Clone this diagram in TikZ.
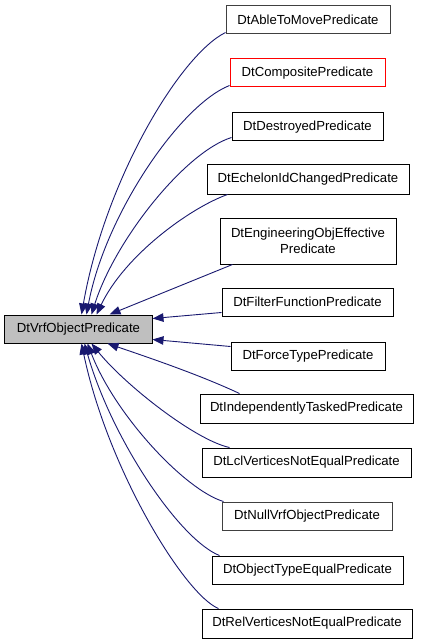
\documentclass[tikz,border=0pt]{standalone}
\usepackage{fontspec}
\setmainfont{Liberation Sans}
\usetikzlibrary{arrows.meta,calc}
\definecolor{edgeblue}{HTML}{191970}
\definecolor{mainfill}{HTML}{BFBFBF}
\definecolor{darkborder}{HTML}{404040}
\tikzset{
  cls/.style={draw=black, line width=1bp, fill=white, inner sep=0pt, minimum height=28bp,
    font=\fontsize{13.2}{16.5}\selectfont, align=center},
  edge/.style={draw=edgeblue, line width=0.9bp, -{Triangle[length=11bp,width=8.5bp]}, fill=none},
}
\begin{document}
\begin{tikzpicture}[x=1bp,y=-1bp]
\useasboundingbox (0,0) rectangle (421,643);
\fill[white] (0,0) rectangle (421,643);

\node[cls, fill=mainfill, minimum width=147bp] (main) at (78.5,329) {DtVrfObjectPredicate};

\node[cls, draw=darkborder, minimum width=164bp] (able) at (308,20) {DtAbleToMovePredicate};
\node[cls, draw=red, minimum width=155bp] (comp) at (307.5,73) {DtCompositePredicate};
\node[cls, minimum width=151bp] (destr) at (307.5,127) {DtDestroyedPredicate};
\node[cls, minimum width=202bp, minimum height=29bp] (ech) at (308,179.5) {DtEchelonIdChangedPredicate};
\node[cls, minimum width=176bp, minimum height=46bp] (eng) at (308,241) {DtEngineeringObjEffective\\Predicate};
\node[cls, minimum width=171bp] (filt) at (307.5,302) {DtFilterFunctionPredicate};
\node[cls, minimum width=154bp] (force) at (308,356) {DtForceTypePredicate};
\node[cls, minimum width=213bp, minimum height=29bp] (indep) at (306.5,408.5) {DtIndependentlyTaskedPredicate};
\node[cls, minimum width=209bp, minimum height=29bp] (lcl) at (306.5,462.5) {DtLclVerticesNotEqualPredicate};
\node[cls, draw=darkborder, minimum width=170bp] (null) at (307,516) {DtNullVrfObjectPredicate};
\node[cls, minimum width=191bp] (objt) at (307.5,570) {DtObjectTypeEqualPredicate};
\node[cls, minimum width=210bp, minimum height=29bp] (rel) at (307,623.5) {DtRelVerticesNotEqualPredicate};

% upper edges
\draw[edge] ($(able.south west)+(0,-2)$) .. controls (180,55) and (105,180) .. ($(main.north west)+(77,0)$);
\draw[edge] ($(comp.south west)+(0,-2)$) .. controls (180,105) and (105,215) .. ($(main.north west)+(82,0)$);
\draw[edge] ($(destr.south west)+(0,-4)$) .. controls (185,152) and (115,240) .. ($(main.north west)+(87,0)$);
\draw[edge] ($(ech.south west)+(21,0)$) .. controls (190,208) and (125,255) .. ($(main.north west)+(92,0)$);
\draw[edge] ($(eng.south west)+(13,0)$) -- ($(main.north west)+(105,0)$);
\draw[edge] ($(filt.south west)+(0,-4)$) -- ($(main.north east)+(0,4)$);
% lower edges
\draw[edge] ($(force.north west)+(0,5)$) -- ($(main.south east)+(0,-4)$);
\draw[edge] ($(indep.north west)+(40,0)$) .. controls (200,375) and (150,358) .. ($(main.south west)+(103,0)$);
\draw[edge] ($(lcl.north west)+(28,0)$) .. controls (195,440) and (125,385) .. ($(main.south west)+(87,0)$);
\draw[edge] ($(null.north west)+(2,0)$) .. controls (185,490) and (115,415) .. ($(main.south west)+(83,0)$);
\draw[edge] ($(objt.north west)+(8,0)$) .. controls (180,540) and (112,440) .. ($(main.south west)+(80,0)$);
\draw[edge] ($(rel.north west)+(17,0)$) .. controls (185,595) and (108,470) .. ($(main.south west)+(77,0)$);
\end{tikzpicture}
\end{document}
